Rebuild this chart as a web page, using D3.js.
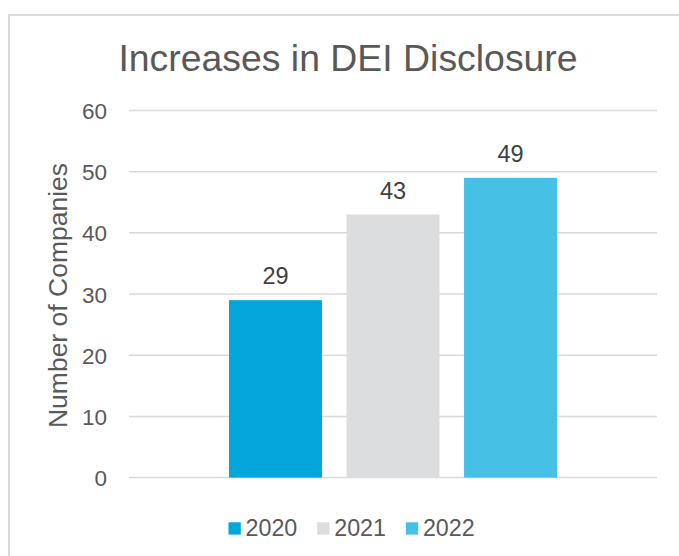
<!DOCTYPE html>
<html>
<head>
<meta charset="utf-8">
<script src="https://cdn.jsdelivr.net/npm/d3@7"></script>
<style>
  body { margin: 0; background: #fff; }
  svg text { font-family: Arial, "Liberation Sans", sans-serif; }
</style>
</head>
<body>
<div id="chart"></div>
<script>
// data
const years = ["2020", "2021", "2022"];
const companies = [29, 43, 49];
const yTicks = [0, 10, 20, 30, 40, 50, 60];
const colors = ["#02A6DA", "#DCDDDF", "#47C0E5"];

const width = 679;
const height = 556;

const svg = d3.select("#chart")
    .append("svg")
    .attr("width", width)
    .attr("height", height);

// chart border (runs off the right and bottom edge)
svg.append("rect")
    .attr("x", 9)
    .attr("y", 15)
    .attr("width", 700)
    .attr("height", 600)
    .attr("fill", "none")
    .attr("stroke", "#D9D9D9")
    .attr("stroke-width", 2);

const plotLeft = 129, plotRight = 657;

const y = d3.scaleLinear()
    .domain([0, 60])
    .range([477.6, 110.5]);

// bars sit in the middle of the plot area
const x = d3.scaleBand()
    .domain(years)
    .range([229, 557])
    .paddingInner(0.209);

// title
svg.append("text")
    .attr("x", 348)
    .attr("y", 70.5)
    .attr("text-anchor", "middle")
    .attr("font-size", 37.4)
    .attr("fill", "#595959")
    .text("Increases in DEI Disclosure");

// gridlines
svg.append("g")
    .selectAll("line")
    .data(yTicks)
    .join("line")
    .attr("x1", plotLeft)
    .attr("x2", plotRight)
    .attr("y1", d => y(d))
    .attr("y2", d => y(d))
    .attr("stroke", "#D9D9D9")
    .attr("stroke-width", 1.5);

// y axis labels
const yAxis = d3.axisLeft(y)
    .tickValues(yTicks)
    .tickSize(0)
    .tickPadding(0);

svg.append("g")
    .attr("transform", "translate(107,0)")
    .call(yAxis)
    .call(g => g.select(".domain").remove())
    .call(g => g.selectAll("text")
        .attr("font-size", 22.5)
        .attr("fill", "#595959")
        .attr("font-family", "Arial, 'Liberation Sans', sans-serif")
        .attr("dy", "0.36em"));

// axis title
svg.append("text")
    .attr("transform", "translate(67,295.5) rotate(-90)")
    .attr("text-anchor", "middle")
    .attr("font-size", 26.5)
    .attr("fill", "#595959")
    .text("Number of Companies");

// bars
svg.append("g")
    .selectAll("rect")
    .data(years)
    .join("rect")
    .attr("x", d => x(d))
    .attr("width", x.bandwidth())
    .attr("y", (d, i) => y(companies[i]))
    .attr("height", (d, i) => y(0) - y(companies[i]))
    .attr("fill", (d, i) => colors[i]);

// data labels
svg.append("g")
    .selectAll("text")
    .data(years)
    .join("text")
    .attr("x", d => x(d) + x.bandwidth() / 2)
    .attr("y", (d, i) => y(companies[i]) - 16)
    .attr("text-anchor", "middle")
    .attr("font-size", 23.5)
    .attr("fill", "#404040")
    .text((d, i) => companies[i]);

// legend
const legend = svg.append("g")
    .selectAll("g")
    .data(years)
    .join("g")
    .attr("transform", (d, i) => `translate(${228.5 + i * 88.7},0)`);

legend.append("rect")
    .attr("y", 522.3)
    .attr("width", 12.3)
    .attr("height", 12.3)
    .attr("fill", (d, i) => colors[i]);

legend.append("text")
    .attr("x", 17)
    .attr("y", 536)
    .attr("font-size", 23.3)
    .attr("fill", "#595959")
    .text(d => d);
</script>
</body>
</html>
